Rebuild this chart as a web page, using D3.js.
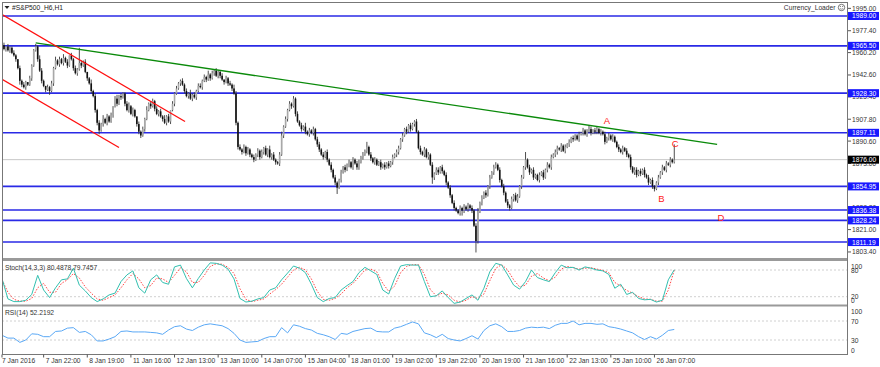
<!DOCTYPE html>
<html><head><meta charset="utf-8">
<script src="https://cdn.jsdelivr.net/npm/d3@7"></script>
<style>html,body{margin:0;padding:0;background:#fff;overflow:hidden}svg{display:block}text{font-family:"Liberation Sans",Arial,sans-serif}</style>
</head><body><svg id="c" width="880" height="367"></svg>
<script>
// ---------------- DATA ----------------
const symbolTitle = "#S&P500_H6,H1";
const firstOpen = 1989;
const closes = [
1966,1963,1965,1962,1964,1960,1958,1955,1948,1938,
1935,1933,1937,1935,1940,1950,1962,1965,1955,1946,
1938,1934,1931,1933,1930,1936,1948,1954,1951,1955,
1952,1956,1953,1950,1958,1955,1948,1944,1947,1952,
1950,1953,1945,1940,1936,1930,1926,1915,1905,1899,
1904,1908,1905,1910,1906,1911,1918,1924,1920,1926,
1925,1928,1920,1915,1918,1912,1915,1910,1904,1898,
1895,1900,1908,1915,1920,1918,1922,1916,1912,1914,
1910,1908,1905,1910,1906,1915,1920,1928,1932,1936,
1938,1935,1930,1926,1928,1924,1927,1925,1930,1934,
1933,1938,1941,1939,1943,1940,1944,1946,1942,1945,
1942,1939,1937,1940,1936,1935,1932,1928,1905,1886,
1884,1882,1886,1881,1884,1880,1878,1876,1880,1883,
1878,1882,1885,1880,1884,1878,1880,1876,1874,1873,
1880,1895,1902,1908,1915,1920,1918,1924,1912,1906,
1903,1900,1902,1898,1896,1899,1897,1900,1892,1888,
1884,1880,1878,1882,1876,1872,1868,1862,1858,1854,
1860,1866,1870,1868,1872,1874,1870,1876,1873,1870,
1874,1878,1880,1883,1886,1880,1877,1874,1876,1872,
1874,1870,1872,1870,1873,1871,1874,1878,1880,1882,
1885,1892,1895,1900,1898,1903,1900,1904,1906,1898,
1885,1882,1880,1884,1878,1880,1872,1862,1865,1868,
1866,1870,1867,1864,1858,1854,1848,1842,1838,1836,
1834,1838,1836,1839,1837,1840,1838,1836,1824,1812,
1835,1842,1846,1850,1848,1855,1862,1866,1870,1872,
1868,1860,1855,1850,1843,1840,1838,1845,1848,1844,
1847,1855,1862,1870,1876,1870,1866,1868,1862,1864,
1860,1864,1866,1862,1868,1872,1870,1878,1880,1882,
1885,1884,1887,1883,1886,1888,1890,1893,1892,1895,
1892,1896,1897,1899,1896,1898,1900,1897,1899,1898,
1900,1897,1898,1896,1890,1893,1895,1892,1894,1890,
1886,1884,1882,1885,1883,1880,1878,1870,1866,1868,
1864,1867,1865,1868,1864,1862,1858,1860,1855,1853,
1858,1862,1866,1870,1868,1873,1872,1876,1874,1876];
const upWick = [
1,2,0,2,1,1,2,1,0,2, 1,2,1,0,2,1,1,2,1,3, 2,1,0,2,1,2,1,3,1,2, 1,3,1,2,0,2,1,2,1,12,
2,1,2,0,1,3,1,2,1,2, 1,3,1,2,1,2,0,2,3,1, 2,1,1,2,3,1,2,1,0,2, 1,2,1,3,1,2,2,1,2,1,
2,1,3,1,2,0,2,1,2,1, 1,2,1,2,1,3,1,2,1,2, 2,1,2,1,3,1,2,1,2,1, 1,2,0,2,1,2,1,3,2,1,
2,1,2,1,2,1,1,2,1,2, 1,2,1,2,1,3,1,2,1,1, 2,3,1,2,1,2,1,2,1,2, 1,2,1,3,1,2,1,2,1,2,
2,1,2,1,2,1,2,1,2,1, 1,2,1,2,1,2,1,2,1,2, 2,1,2,1,4,1,2,1,2,1, 1,2,1,2,1,2,1,2,1,2,
2,1,2,1,2,1,2,1,1,2, 1,2,1,2,1,2,1,2,1,2, 2,1,2,1,2,1,2,1,2,1, 1,2,1,2,1,2,1,2,1,2,
3,1,2,1,2,1,2,1,2,2, 1,2,1,2,1,2,1,2,1,2, 2,1,2,1,6,1,2,1,2,1, 1,2,1,2,1,2,1,2,1,2,
2,1,2,1,2,1,2,1,2,1, 1,2,1,2,1,2,3,2,1,2, 2,1,2,1,2,1,2,1,2,1, 1,2,1,2,1,2,1,2,1,2,
2,1,2,1,2,1,2,1,2,1, 1,2,1,2,1,2,1,2,1,12];
const downWick = [
1,1,2,1,2,1,1,2,1,3, 2,1,2,1,1,2,1,1,2,1, 2,1,2,1,3,1,2,1,1,2, 1,2,1,2,1,1,2,1,2,1,
2,1,1,2,1,2,1,2,2,3, 1,2,1,2,1,1,2,1,2,1, 2,1,2,1,2,1,2,1,2,2, 2,1,2,1,1,2,1,2,1,2,
1,2,1,2,1,2,1,2,1,1, 2,1,2,1,2,1,2,1,2,1, 1,2,1,2,1,2,1,2,1,2, 2,1,2,1,2,1,2,1,2,2,
1,2,1,2,1,2,1,2,1,2, 2,1,2,1,2,1,2,1,2,1, 2,1,2,1,2,1,2,1,2,1, 1,2,1,2,1,2,1,2,1,2,
2,1,2,1,2,1,2,1,2,5, 1,2,1,2,1,2,1,2,1,2, 2,1,2,1,2,1,2,1,2,1, 1,2,1,2,1,2,1,2,1,2,
2,1,2,1,2,1,2,1,2,1, 1,2,1,2,1,2,1,5,2,1, 2,1,2,1,2,1,2,1,2,1, 1,2,4,2,1,2,1,2,1,9,
2,1,2,1,2,1,2,1,2,1, 1,2,1,2,1,2,2,1,2,1, 2,1,2,1,2,1,2,1,2,1, 1,2,1,2,1,2,1,2,1,2,
2,1,2,1,2,1,2,1,2,1, 1,2,1,2,1,2,1,2,1,2, 2,1,2,1,2,1,2,1,2,1, 1,2,1,2,1,2,1,2,1,2,
2,1,2,1,2,1,2,1,2,2, 1,2,1,2,1,2,1,2,1,1];

// oscillators, read every 3rd bar
const stochK = [61,15,9,9,12,25,68,35,18,40, 58,60,84,46,33,18,9,15,24,28, 54,69,78,40,28,58,69,52,48,87,
 91,61,40,61,80,96,95,91,82,60, 16,8,10,15,18,35,40,58,73,89, 84,74,48,18,9,16,18,35,45,54,
 74,86,78,70,35,26,61,89,92,91, 91,54,20,22,33,18,5,8,16,24, 12,39,76,95,91,69,46,37,54,80,
 63,58,54,74,91,85,86,80,87,84, 80,78,70,39,48,25,30,16,13,14, 8,12,58,80.49];
const stochD = [58,30,14,10,10,16,40,50,30,30, 50,58,72,62,42,28,15,12,18,24, 40,58,72,60,40,45,62,60,52,68,
 85,76,52,52,68,88,94,93,86,72, 38,14,9,12,15,26,36,48,64,80, 86,80,60,32,14,12,16,26,40,50,
 64,80,82,76,50,32,44,74,88,92, 92,70,36,22,28,24,12,8,12,20, 16,26,56,84,92,80,58,42,46,66,
 72,62,56,64,82,88,85,82,84,85, 82,79,74,52,44,34,28,20,15,14, 10,10,35,79.75];
const rsi = [40,34,34,25,30,43,42,37,37,48, 49,55,56,46,48,41,28,28,32,37, 48,49,47,47,47,46,45,42,51,58,
 60,53,50,57,62,64,62,60,54,44, 30,25,26,27,33,37,37,56,45,62, 59,54,51,44,41,37,31,44,42,48,
 51,54,55,48,47,47,55,58,63,68, 64,45,41,35,42,33,30,28,33,39, 32,50,60,64,58,48,48,50,55,57,
 56,57,54,61,65,65,70,62,65,65, 63,64,58,56,53,49,45,37,31,37, 32,40,50,52.22];
const oscBars = d3.range(0, 340, 3);

const timeLabels = ["7 Jan 2016","7 Jan 22:00","8 Jan 19:00","11 Jan 16:00","12 Jan 13:00","13 Jan 10:00","14 Jan 07:00","15 Jan 04:00","18 Jan 01:00","19 Jan 02:00","19 Jan 22:00","20 Jan 19:00","21 Jan 16:00","22 Jan 13:00","25 Jan 10:00","26 Jan 07:00"];
const timeLabelBars = [0,21,43,65,87,109,131,153,175,197,219,241,263,285,307,329];

const priceTicks = [1995.00,1977.40,1960.20,1942.60,1925.40,1907.80,1890.60,1873.00,1855.80,1838.20,1821.00,1803.40];
const levelPrices = [1989.00,1965.50,1928.30,1897.11,1854.95,1836.38,1828.24,1811.19];
const bidPrice = 1876.00;

const greenLine = [{bar:17, price:1967.8},{bar:360.6, price:1888.0}];
const redUpper = [{bar:-0.5, price:1990.6},{bar:92.3, price:1906.0}];
const redLower = [{bar:-0.5, price:1939.7},{bar:59.0, price:1885.6}];
const waveLabels = [{t:"A",bar:305,price:1906.8},{t:"B",bar:332.5,price:1845.7},{t:"C",bar:339.5,price:1888.8},{t:"D",bar:362.5,price:1830.8}];

const stochLevels = [80,20], stochAxis = [100,80,20,0];
const rsiLevels = [70,30], rsiAxis = [100,70,30,0];
const stochTitle = "Stoch(14,3,3) 80.4878,79.7457";
const rsiTitle = "RSI(14) 52.2192";

// ---------------- LAYOUT ----------------
const L = 2, R = 848;
const main = {top:2, bottom:258};
const stP = {top:261, bottom:305};
const rsP = {top:306, bottom:354.5};
const svg = d3.select("#c");
const FS = 6.7;

const x = d3.scaleLinear().domain([-0.5, 426.6]).range([1, 848]);
const y = d3.scaleLinear().domain([1798.65, 2000.0]).range([258, 2]);
const ys = d3.scaleLinear().domain([0,100]).range([305.6, 261.1]);
const yr = d3.scaleLinear().domain([0,100]).range([354.25, 306.75]);

svg.append("rect").attr("width",880).attr("height",367).attr("fill","#fff");
const defs = svg.append("defs");
defs.append("clipPath").attr("id","cm").append("rect").attr("x",L).attr("y",main.top).attr("width",R-L).attr("height",main.bottom-main.top);
defs.append("clipPath").attr("id","cs").append("rect").attr("x",L).attr("y",stP.top).attr("width",R-L).attr("height",stP.bottom-stP.top);
defs.append("clipPath").attr("id","cr").append("rect").attr("x",L).attr("y",rsP.top).attr("width",R-L).attr("height",rsP.bottom-rsP.top);

// bid line
const gm = svg.append("g").attr("clip-path","url(#cm)");
gm.append("line").attr("x1",L).attr("x2",R).attr("y1",y(bidPrice)).attr("y2",y(bidPrice)).attr("stroke","#c8c8c8").attr("stroke-width",1);

// horizontal levels
gm.selectAll("line.lv").data(levelPrices).join("line").attr("class","lv")
  .attr("x1",L).attr("x2",R).attr("y1",d=>y(d)).attr("y2",d=>y(d))
  .attr("stroke","#2a2ae6").attr("stroke-width",1.6);

// candles
const bars = closes.map((c,i)=>{
  const o = i===0 ? firstOpen : closes[i-1];
  return {i, o, c, h: Math.max(o,c)+upWick[i], l: Math.min(o,c)-downWick[i]};
});
const cg = gm.append("g");
cg.selectAll("line.w").data(bars).join("line").attr("class","w")
  .attr("x1",d=>x(d.i)).attr("x2",d=>x(d.i)).attr("y1",d=>y(d.h)).attr("y2",d=>y(d.l))
  .attr("stroke","#3a3a3a").attr("stroke-width",0.9);
cg.selectAll("rect.b").data(bars).join("rect").attr("class","b")
  .attr("x",d=>x(d.i)-0.8).attr("width",1.6)
  .attr("y",d=>y(Math.max(d.o,d.c))).attr("height",d=>Math.max(0.8, Math.abs(y(d.o)-y(d.c))))
  .attr("fill",d=>d.c>=d.o?"#a8a8a8":"#111");

// trend lines
const ln = d3.line().x(d=>x(d.bar)).y(d=>y(d.price));
gm.append("path").attr("d",ln(greenLine)).attr("stroke","#0a8a0a").attr("stroke-width",1.3).attr("fill","none");
gm.append("path").attr("d",ln(redUpper)).attr("stroke","#ff1010").attr("stroke-width",1.3).attr("fill","none");
gm.append("path").attr("d",ln(redLower)).attr("stroke","#ff1010").attr("stroke-width",1.3).attr("fill","none");

// wave labels
gm.selectAll("text.wl").data(waveLabels).join("text").attr("class","wl")
  .attr("x",d=>x(d.bar)).attr("y",d=>y(d.price)).attr("text-anchor","middle").attr("dominant-baseline","central")
  .attr("fill","#ff2020").attr("font-size",9.5).text(d=>d.t);

// title
svg.append("path").attr("d","M4.5,6 L9.5,6 L7,9 Z").attr("fill","#222");
svg.append("text").attr("x",12).attr("y",7.5).attr("dominant-baseline","central").attr("font-size",FS).attr("fill","#222").text(symbolTitle);
svg.append("text").attr("x",835.5).attr("y",7.5).attr("dominant-baseline","central").attr("text-anchor","end").attr("font-size",FS).attr("fill","#333").text("Currency_Loader");
const sm = svg.append("g").attr("transform","translate(841.5,7.5)");
sm.append("circle").attr("r",3.2).attr("fill","none").attr("stroke","#555").attr("stroke-width",0.8);
sm.append("circle").attr("cx",-1.1).attr("cy",-0.9).attr("r",0.5).attr("fill","#555");
sm.append("circle").attr("cx",1.1).attr("cy",-0.9).attr("r",0.5).attr("fill","#555");
sm.append("path").attr("d","M-1.6,1 Q0,2.4 1.6,1").attr("fill","none").attr("stroke","#555").attr("stroke-width",0.6);

// oscillator panels
const osc = oscBars.map((b,j)=>({b, k:stochK[j], d:stochD[j], r:rsi[j]}));
const gs = svg.append("g").attr("clip-path","url(#cs)");
gs.selectAll("line.lvl").data(stochLevels).join("line").attr("class","lvl")
  .attr("x1",L).attr("x2",R).attr("y1",d=>ys(d)).attr("y2",d=>ys(d))
  .attr("stroke","#c4c4c4").attr("stroke-dasharray","2,2").attr("stroke-width",0.8);
gs.append("path").attr("d",d3.line().x(d=>x(d.b)).y(d=>ys(d.d))(osc)).attr("fill","none").attr("stroke","#ff3030").attr("stroke-width",0.9).attr("stroke-dasharray","1.5,1.5");
gs.append("path").attr("d",d3.line().x(d=>x(d.b)).y(d=>ys(d.k))(osc)).attr("fill","none").attr("stroke","#33c0b0").attr("stroke-width",1);
svg.append("text").attr("x",5).attr("y",267).attr("dominant-baseline","central").attr("font-size",FS).attr("fill","#333").text(stochTitle);

const gr = svg.append("g").attr("clip-path","url(#cr)");
gr.selectAll("line.lvl").data(rsiLevels).join("line").attr("class","lvl")
  .attr("x1",L).attr("x2",R).attr("y1",d=>yr(d)).attr("y2",d=>yr(d))
  .attr("stroke","#c4c4c4").attr("stroke-dasharray","2,2").attr("stroke-width",0.8);
gr.append("path").attr("d",d3.line().x(d=>x(d.b)).y(d=>yr(d.r))(osc)).attr("fill","none").attr("stroke","#5aa8f5").attr("stroke-width",1);
svg.append("text").attr("x",5).attr("y",312).attr("dominant-baseline","central").attr("font-size",FS).attr("fill","#333").text(rsiTitle);

// frames
svg.append("rect").attr("x",L+0.5).attr("y",main.top+0.5).attr("width",R-L-1).attr("height",main.bottom-main.top).attr("fill","none").attr("stroke","#777").attr("stroke-width",1);
svg.append("rect").attr("x",L).attr("y",258).attr("width",R-L).attr("height",3).attr("fill","#9a9a9a");
svg.append("rect").attr("x",L).attr("y",304.5).attr("width",R-L).attr("height",2).attr("fill","#9a9a9a");
svg.append("line").attr("x1",L+0.5).attr("x2",L+0.5).attr("y1",main.top).attr("y2",rsP.bottom).attr("stroke","#777");
svg.append("line").attr("x1",R-0.5).attr("x2",R-0.5).attr("y1",main.top).attr("y2",rsP.bottom).attr("stroke","#777");
svg.append("line").attr("x1",L).attr("x2",R).attr("y1",rsP.bottom).attr("y2",rsP.bottom).attr("stroke","#777");

// price axis
const ax = svg.append("g");
ax.selectAll("line.t").data(priceTicks).join("line").attr("class","t")
  .attr("x1",R).attr("x2",R+3).attr("y1",d=>y(d)).attr("y2",d=>y(d)).attr("stroke","#555");
ax.selectAll("text.t").data(priceTicks).join("text").attr("class","t")
  .attr("x",R+4).attr("y",d=>y(d)).attr("dominant-baseline","central").attr("font-size",FS).attr("fill","#333")
  .text(d=>d.toFixed(2));
// level boxes
const lb = ax.selectAll("g.lb").data(levelPrices).join("g").attr("class","lb").attr("transform",d=>`translate(${R},${y(d)})`);
lb.append("rect").attr("x",0).attr("y",-4).attr("width",31).attr("height",8).attr("fill","#1818ff");
lb.append("text").attr("x",4).attr("y",0).attr("dominant-baseline","central").attr("font-size",FS).attr("fill","#fff").text(d=>d.toFixed(2));
const bb = ax.append("g").attr("transform",`translate(${R},${y(bidPrice)})`);
bb.append("rect").attr("x",0).attr("y",-4).attr("width",31).attr("height",8).attr("fill","#000");
bb.append("text").attr("x",4).attr("y",0).attr("dominant-baseline","central").attr("font-size",FS).attr("fill","#fff").text(bidPrice.toFixed(2));

// oscillator axes
function oscAxis(sc, vals, panel){
  const g = svg.append("g");
  g.selectAll("text").data(vals).join("text")
    .attr("x",R+3).attr("y",d=>Math.min(panel.bottom-4.2, Math.max(panel.top+5, sc(d))))
    .attr("dominant-baseline","central").attr("font-size",FS).attr("fill","#333").text(d=>d);
}
oscAxis(ys, stochAxis, stP);
oscAxis(yr, rsiAxis, rsP);

// time axis
const tg = svg.append("g");
tg.selectAll("line").data(timeLabelBars).join("line")
  .attr("x1",d=>x(d)).attr("x2",d=>x(d)).attr("y1",rsP.bottom).attr("y2",rsP.bottom+3).attr("stroke","#555");
tg.selectAll("text").data(timeLabels).join("text")
  .attr("x",(d,i)=>i===0? 2 : x(timeLabelBars[i])+2).attr("y",360.5).attr("dominant-baseline","central")
  .attr("font-size",FS).attr("fill","#333").text(d=>d);
</script></body></html>
